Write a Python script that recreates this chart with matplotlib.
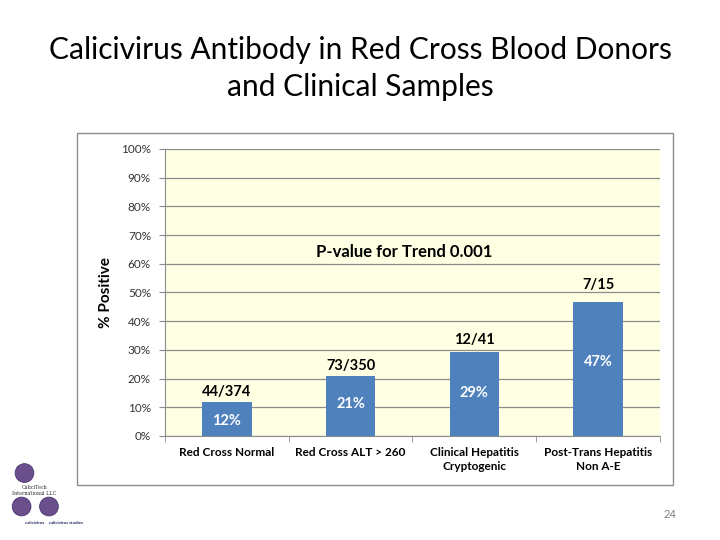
import matplotlib.pyplot as plt
from matplotlib.patches import Rectangle, Ellipse
from matplotlib.ticker import MultipleLocator, PercentFormatter
import numpy as np

plt.rcParams["font.family"] = ["Lato", "DejaVu Sans"]

# data
categories = ["Red Cross Normal", "Red Cross ALT > 260",
              "Clinical Hepatitis\nCryptogenic", "Post-Trans Hepatitis\nNon A-E"]
positives = [44, 73, 12, 7]
totals = [374, 350, 41, 15]
pct_labels = ["12%", "21%", "29%", "47%"]

pct = [100.0 * p / t for p, t in zip(positives, totals)]

# label placement (offsets in % units)
inner_off = [-6.6, -9.8, -14.3, -20.9]
frac_off = [3.5, 3.5, 4.1, 5.9]

BAR = "#4F81BD"
GRID = "#8C8C8C"

fig = plt.figure(figsize=(7.2, 5.4), dpi=100)
fig.patch.set_facecolor("white")

fig.text(0.5, 0.907, "Calicivirus Antibody in Red Cross Blood Donors",
         ha="center", va="center", fontsize=21.5, color="black")
fig.text(0.5, 0.838, "and Clinical Samples",
         ha="center", va="center", fontsize=21.5, color="black")

# chart frame
fig.patches.append(Rectangle((0.107, 0.102), 0.828, 0.652, transform=fig.transFigure,
                             facecolor="white", edgecolor=GRID, linewidth=1.0, zorder=-1))

ax = fig.add_axes([0.229, 0.1926, 0.6875, 0.5315])
ax.set_facecolor("#FFFFE3")
x = np.arange(len(categories))
ax.bar(x, pct, width=0.4, color=BAR, zorder=3)

ax.set_xlim(-0.5, len(categories) - 0.5)
ax.set_ylim(0, 100)
ax.yaxis.set_major_locator(MultipleLocator(10))
ax.yaxis.set_major_formatter(PercentFormatter(decimals=0))
ax.grid(axis="y", color=GRID, linewidth=0.9, zorder=1)
ax.set_axisbelow(True)

for s in ["top", "right"]:
    ax.spines[s].set_visible(False)
ax.spines["left"].set_color(GRID)
ax.spines["bottom"].set_color(GRID)

ax.tick_params(axis="y", labelsize=8.5, labelcolor="#333333", color=GRID, length=4, pad=6)
ax.set_xticks(x)
ax.set_xticklabels(categories, fontsize=8.5, fontweight="bold", linespacing=1.35)
ax.tick_params(axis="x", length=0, pad=8)
ax.set_xticks(np.arange(-0.5, len(categories)), minor=True)
ax.tick_params(axis="x", which="minor", length=4, color=GRID)

ax.set_ylabel("% Positive", fontsize=11, fontweight="bold", labelpad=6)

for i in range(len(categories)):
    ax.text(x[i], pct[i] + inner_off[i], pct_labels[i], ha="center", va="center",
            color="white", fontsize=10.5, fontweight="bold", zorder=4)
    ax.text(x[i], pct[i] + frac_off[i], f"{positives[i]}/{totals[i]}", ha="center",
            va="center", color="black", fontsize=10.5, fontweight="bold", zorder=4)

ax.text(1.43, 64.2, "P-value for Trend 0.001", ha="center", va="center",
        fontsize=12, fontweight="bold", color="black")

# page number
fig.text(0.930, 0.047, "24", ha="center", va="center", fontsize=8, color="#7F7F7F")

# small logo in the lower left corner
for cx, cy in [(0.034, 0.124), (0.030, 0.062), (0.068, 0.062)]:
    fig.patches.append(Ellipse((cx, cy), 0.026, 0.0347, transform=fig.transFigure,
                               facecolor="#6B4F8C", edgecolor="#4A3570", linewidth=0.6))
fig.text(0.048, 0.092, "CaliciTech\nInternational LLC", ha="center", va="center",
         fontsize=3.5, color="#333333", family="DejaVu Serif")
fig.text(0.075, 0.031, "calicivirus    calicivirus studies", ha="center", va="center",
         fontsize=3.2, color="#1F2A5A", fontweight="bold")

fig.savefig("out.png", dpi=100)
